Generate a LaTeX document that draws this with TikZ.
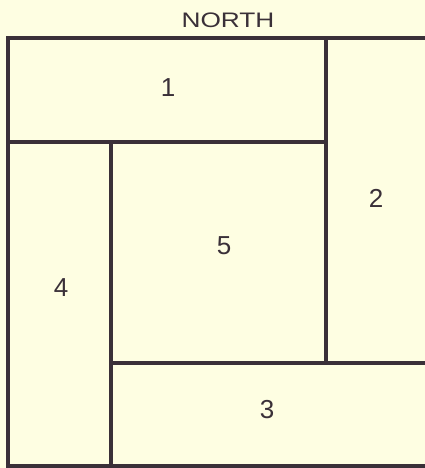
\documentclass[tikz,border=0pt]{standalone}
\usepackage{fontspec}
\setmainfont{Liberation Sans}
\definecolor{bgc}{HTML}{FEFEE2}
\definecolor{linec}{HTML}{3A3038}
\tikzset{
  wall/.style={draw=linec, line width=4.5pt, line join=miter},
  lbl/.style={text=linec, font=\fontsize{26}{28}\selectfont, inner sep=0pt},
  ttl/.style={text=linec, font=\fontsize{21}{23}\selectfont, inner sep=0pt, xscale=1.25}
}
\begin{document}
\begin{tikzpicture}[x=1pt,y=-1pt]
\fill[bgc] (0,0) rectangle (425,468);
\useasboundingbox (0,0) rectangle (425,468);
% walls
\draw[wall] (425,38) -- (8,38) -- (8,466) -- (425,466);
\draw[wall] (8,142) -- (326,142);
\draw[wall] (326,38) -- (326,363);
\draw[wall] (111,142) -- (111,466);
\draw[wall] (111,363) -- (425,363);
% labels
\node[ttl] (north) at (228,20) {NORTH};
\node[lbl] (r1) at (168,88) {1};
\node[lbl] (r2) at (376,198) {2};
\node[lbl] (r5) at (224,246) {5};
\node[lbl] (r4) at (61,288) {4};
\node[lbl] (r3) at (267,410) {3};
\end{tikzpicture}
\end{document}
